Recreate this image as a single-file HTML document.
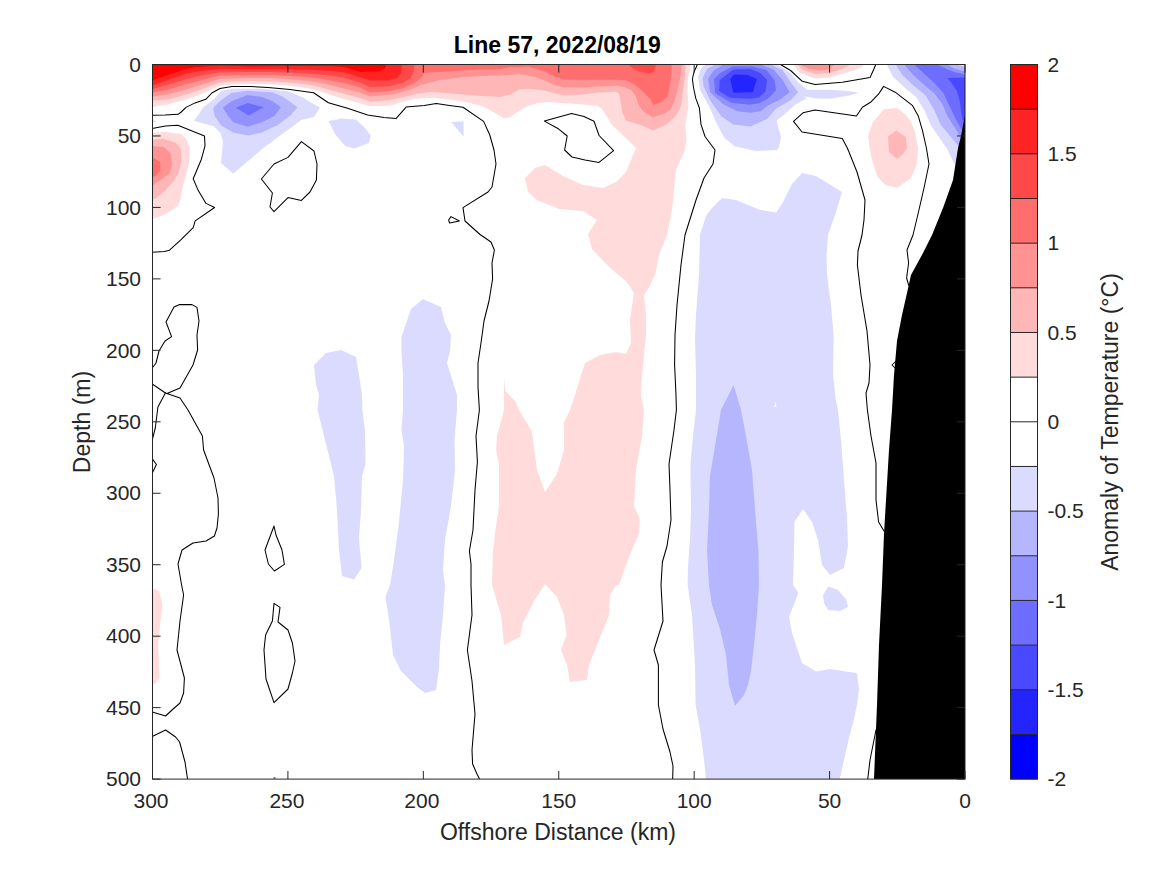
<!DOCTYPE html>
<html lang="en"><head><meta charset="utf-8"><title>Line 57, 2022/08/19</title>
<style>html,body{margin:0;padding:0;background:#fff;font-family:"Liberation Sans",sans-serif}svg{display:block}</style></head><body>
<svg width="1167" height="875" viewBox="0 0 1167 875">
<rect width="1167" height="875" fill="#fff"/>
<defs><clipPath id="ax"><rect x="152.5" y="64.5" width="812.5" height="714.6"/></clipPath></defs>
<g clip-path="url(#ax)" shape-rendering="auto">
<polygon fill="#ffdbdb" points="152.5,64.5 152.5,58.0 152.5,64.5 152.5,107.0 168.0,104.4 186.0,99.6 198.0,95.4 210.0,90.0 220.0,85.8 232.0,84.6 250.0,84.0 270.0,84.3 290.0,85.8 308.0,88.2 320.0,91.2 332.0,95.4 344.0,99.0 360.0,103.2 370.0,106.2 391.0,105.6 400.0,102.5 412.0,99.5 424.0,98.0 436.0,97.7 440.0,98.5 454.0,100.2 464.0,101.7 482.0,106.0 490.0,110.0 500.0,116.0 504.0,118.5 510.0,117.0 519.0,111.0 528.0,106.0 537.0,103.2 546.0,102.0 555.0,102.6 564.0,103.2 580.0,104.2 598.0,106.0 602.0,109.0 606.6,116.3 611.7,124.4 618.0,130.4 636.0,148.0 626.0,172.0 616.0,182.0 603.0,188.0 583.0,185.0 563.0,176.0 545.0,165.0 535.0,168.0 525.0,178.0 528.0,192.0 537.0,200.0 559.0,209.0 583.0,211.0 597.0,220.0 588.0,234.0 592.0,249.0 603.0,261.0 616.0,273.0 626.0,281.0 634.0,293.0 630.0,319.0 631.0,343.0 626.0,354.0 616.0,352.0 600.0,355.0 585.0,363.0 581.0,375.0 575.0,395.0 570.0,410.0 564.0,422.0 564.0,450.0 557.0,474.0 545.0,492.0 537.0,470.0 532.0,432.0 519.0,410.0 515.0,401.0 505.4,391.0 504.0,378.0 504.0,410.0 497.0,436.0 496.0,450.0 499.0,466.0 499.0,506.0 496.0,526.0 493.0,550.0 492.0,585.0 501.0,615.0 504.0,645.0 520.0,637.0 523.0,623.0 534.0,601.0 545.0,584.0 557.0,597.0 564.0,615.0 566.6,635.0 561.0,650.0 567.0,665.0 570.0,682.0 587.0,680.0 589.0,665.0 601.0,635.0 609.0,615.0 610.0,595.0 616.0,585.0 619.0,585.0 624.0,570.0 630.0,554.0 639.0,534.0 639.6,518.0 634.0,506.0 636.0,470.0 642.0,436.0 644.0,410.0 641.0,395.0 642.0,375.0 646.0,335.0 646.0,315.0 644.0,295.0 648.0,289.0 655.0,275.0 659.0,255.0 667.0,235.0 672.0,210.0 676.0,170.0 685.0,150.0 686.4,140.0 685.4,125.0 687.4,112.0 688.6,105.0 687.4,90.0 688.0,78.0 691.0,64.5 691.0,58.0 691.0,64.5"/>
<polygon fill="#ffb6b6" points="152.5,64.5 152.5,58.0 152.5,64.5 152.5,100.5 168.0,99.5 186.0,94.5 198.0,90.6 210.0,86.0 220.0,82.4 232.0,81.5 250.0,81.0 270.0,81.2 290.0,82.5 308.0,84.5 320.0,87.0 332.0,90.5 344.0,93.7 360.0,98.0 370.0,101.4 388.0,100.2 406.0,96.5 418.0,93.5 430.0,92.0 440.0,92.5 464.0,94.5 482.0,96.0 500.0,97.0 510.0,94.5 519.0,89.4 528.0,88.8 537.0,89.5 546.0,91.0 555.0,93.6 564.0,95.2 580.0,94.8 598.0,92.4 616.0,91.8 619.0,93.6 620.8,102.0 622.0,112.0 626.0,120.4 642.0,125.4 653.2,130.4 666.3,124.4 676.4,115.3 681.0,106.0 683.2,90.0 685.0,78.0 685.6,64.5 685.6,58.0 685.6,64.5"/>
<polygon fill="#ff9292" points="152.5,64.5 152.5,58.0 152.5,64.5 152.5,96.5 168.0,94.6 186.0,89.4 198.0,85.8 210.0,82.0 220.0,79.0 232.0,78.4 250.0,78.0 270.0,78.1 290.0,79.2 308.0,80.8 320.0,82.8 332.0,85.6 344.0,88.4 360.0,92.8 370.0,96.6 394.0,94.2 409.0,90.0 421.0,85.0 430.0,82.5 440.0,80.0 464.0,77.0 482.0,76.0 500.0,75.6 510.0,75.0 519.0,74.1 528.0,75.5 537.0,77.4 546.0,81.0 555.0,85.2 564.0,87.6 580.0,87.6 598.0,86.4 616.0,85.8 625.0,87.0 631.0,90.0 635.8,96.0 638.5,105.0 644.2,112.3 653.2,117.3 665.3,113.0 670.0,110.0 674.2,102.0 677.5,90.0 680.4,77.0 681.8,64.5 681.8,58.0 681.8,64.5"/>
<polygon fill="#ff6d6d" points="152.5,64.5 152.5,58.0 152.5,64.5 152.5,92.6 168.0,89.7 186.0,84.3 198.0,81.0 210.0,78.0 220.0,75.6 232.0,75.3 250.0,75.0 270.0,75.0 290.0,75.9 308.0,77.1 320.0,78.6 332.0,80.7 344.0,83.0 360.0,87.6 370.0,92.4 388.0,91.2 403.0,88.2 415.0,82.8 422.2,76.8 424.0,72.9 430.0,72.6 440.0,72.0 464.0,70.2 482.0,69.6 500.0,69.2 510.0,67.2 519.0,67.0 528.0,66.6 537.0,69.0 546.0,72.0 555.0,76.8 564.0,79.5 580.0,79.8 598.0,79.8 618.0,79.8 626.0,80.2 634.0,84.0 640.0,88.8 646.0,94.8 650.0,98.4 653.5,105.0 661.0,102.0 668.2,96.0 668.8,90.0 671.2,78.0 671.8,64.5 671.8,58.0 671.8,64.5"/>
<polygon fill="#ff4949" points="152.5,64.5 152.5,58.0 152.5,64.5 152.5,89.0 168.0,84.8 186.0,79.2 198.0,76.2 210.0,74.0 220.0,72.2 232.0,72.2 250.0,72.0 270.0,72.0 290.0,72.6 308.0,73.4 320.0,74.4 332.0,75.8 344.0,77.7 360.0,82.4 370.0,87.0 388.0,86.4 403.0,82.8 410.8,78.0 413.8,72.0 414.4,64.5 414.4,58.0 414.4,64.5"/>
<polygon fill="#ff2424" points="152.5,64.5 152.5,58.0 152.5,64.5 152.5,85.2 168.0,79.9 186.0,74.1 198.0,71.4 210.0,70.0 220.0,68.8 232.0,69.0 250.0,69.0 270.0,69.0 290.0,69.3 308.0,69.7 320.0,70.2 332.0,71.0 344.0,72.4 360.0,77.2 370.0,80.4 388.0,80.4 397.0,78.0 401.2,73.2 401.8,64.5 401.8,58.0 401.8,64.5"/>
<polygon fill="#ff0000" points="152.5,64.5 152.5,58.0 152.5,64.5 152.5,80.4 168.0,75.0 186.0,69.0 198.0,67.0 210.0,66.0 220.0,65.5 250.0,66.5 290.0,66.0 320.0,66.0 332.0,66.2 344.0,67.0 360.0,72.0 370.0,71.4 379.0,71.4 385.0,68.4 386.2,64.5 386.2,58.0 386.2,64.5"/>
<polygon fill="#ff4949" points="628.0,64.5 628.0,58.0 628.0,64.5 634.0,69.0 640.0,72.0 650.0,73.5 654.0,72.0 656.0,64.5 656.0,58.0 656.0,64.5"/>
<polygon fill="#ffdbdb" points="150.0,133.0 165.4,132.0 180.8,134.0 186.0,138.6 189.6,146.9 189.6,159.2 187.0,172.6 184.0,182.9 182.9,185.4 180.8,198.8 177.8,206.0 165.4,214.2 150.0,220.4"/>
<polygon fill="#ffb6b6" points="150.0,139.7 163.4,138.7 175.7,142.8 180.8,148.9 181.4,161.3 178.8,172.6 174.2,180.5 165.4,190.6 156.2,197.8 150.0,200.8"/>
<polygon fill="#ff9292" points="150.0,145.8 163.4,146.9 170.6,153.0 172.1,164.4 169.5,173.6 160.3,180.3 150.0,187.5"/>
<polygon fill="#ff6d6d" points="150.0,156.0 160.3,162.3 160.3,170.5 155.5,176.0 150.0,178.0"/>
<polygon fill="#ffdbdb" points="150.0,587.0 159.0,591.0 162.4,605.0 160.0,625.0 158.0,645.0 159.0,665.0 159.6,677.0 156.0,683.0 150.0,685.0"/>
<polygon fill="#ffdbdb" points="793.0,64.5 793.0,58.0 793.0,64.5 800.0,73.1 815.0,78.6 830.2,77.6 845.3,73.1 860.4,68.0 864.4,64.5 864.4,58.0 864.4,64.5"/>
<polygon fill="#ffb6b6" points="797.0,64.5 797.0,58.0 797.0,64.5 803.0,70.0 816.0,74.1 830.2,73.1 842.3,69.0 850.4,64.5 850.4,58.0 850.4,64.5"/>
<polygon fill="#ff9292" points="800.0,64.5 800.0,58.0 800.0,64.5 808.0,68.6 820.0,70.6 828.0,69.6 835.3,64.5 835.3,58.0 835.3,64.5"/>
<polygon fill="#ffdbdb" points="868.0,136.0 873.0,122.0 880.0,114.0 883.6,109.3 897.0,108.0 906.0,115.0 911.0,122.0 915.0,132.0 918.0,148.0 917.0,164.0 911.0,178.0 897.0,188.0 885.0,185.0 877.0,176.0 871.0,156.0"/>
<polygon fill="#ffb6b6" points="888.0,136.5 896.2,130.4 905.6,137.0 907.0,148.0 903.0,154.0 897.0,159.0 889.0,152.0"/>
<polygon fill="#dbdbff" points="194.1,121.1 202.9,107.8 213.7,99.5 220.8,91.3 231.1,88.7 262.0,88.7 287.7,91.3 303.1,97.5 310.0,102.1 320.0,107.6 314.0,117.0 301.0,120.1 292.8,126.3 277.4,137.6 262.0,148.9 251.7,158.1 239.4,168.4 233.0,173.6 221.0,163.0 222.9,141.7 220.8,133.5 213.7,126.3"/>
<polygon fill="#b6b6ff" points="213.1,107.8 220.8,100.6 231.1,92.9 247.6,90.8 272.3,92.3 282.5,96.5 297.5,107.2 290.8,115.0 277.4,125.2 262.0,132.4 248.6,135.5 233.2,132.4 220.8,125.2 214.7,116.0"/>
<polygon fill="#9292ff" points="222.9,107.8 231.1,101.6 247.6,94.9 262.0,97.0 272.3,101.1 281.0,107.2 274.3,116.0 262.0,122.2 247.6,126.8 233.2,122.2 228.0,116.0"/>
<polygon fill="#6d6dff" points="235.8,107.8 247.6,103.1 264.0,107.2 248.6,115.5"/>
<polygon fill="#dbdbff" points="152.5,120.2 157.2,121.2 152.5,122.6"/>
<polygon fill="#dbdbff" points="328.6,121.0 342.0,118.4 356.0,119.4 365.0,128.0 370.6,135.6 369.0,143.0 354.0,148.4 345.0,146.0 335.0,134.0"/>
<polygon fill="#dbdbff" points="451.0,122.0 463.6,121.4 463.6,136.6"/>
<polygon fill="#dbdbff" points="314.0,365.0 326.0,353.0 341.0,350.0 356.0,357.0 359.0,375.0 362.0,395.0 362.4,410.0 365.0,430.0 365.6,464.0 362.0,476.0 361.0,510.0 359.0,538.0 361.6,568.0 354.0,579.6 342.0,576.0 339.0,550.0 337.0,510.0 334.0,476.0 324.0,436.0 317.6,410.0 319.0,395.0 316.0,385.0"/>
<polygon fill="#dbdbff" points="401.4,337.0 411.0,309.0 423.0,299.0 441.0,307.0 445.0,323.0 451.0,335.0 450.0,351.0 447.0,363.0 452.0,379.0 457.0,395.0 457.0,410.0 454.6,440.0 455.0,470.0 451.0,506.0 445.0,540.0 443.0,570.0 445.0,585.0 443.0,615.0 440.0,645.0 439.0,669.0 436.0,690.0 425.0,693.0 417.0,687.0 401.0,671.0 393.0,655.0 389.0,619.0 385.4,597.0 390.0,585.0 394.0,560.0 399.0,522.0 403.0,480.0 404.0,446.0 401.4,430.0 403.0,410.0 403.0,375.0 401.4,351.0"/>
<polygon fill="#dbdbff" points="700.0,235.0 706.0,216.0 712.0,208.0 722.0,198.0 736.0,200.0 760.0,210.0 776.0,212.4 782.0,204.0 792.0,184.0 802.0,173.0 816.0,176.0 842.0,192.0 836.0,212.0 828.0,235.0 826.5,255.0 827.0,275.0 831.0,305.0 833.6,335.0 833.0,375.0 836.0,401.0 838.0,410.0 841.0,440.0 844.0,480.0 847.0,518.0 848.0,546.0 844.0,568.0 830.0,575.0 822.0,565.0 818.0,540.0 812.0,522.0 803.0,509.0 794.4,522.0 794.0,550.0 793.0,585.0 798.4,593.0 789.0,617.0 792.0,633.0 802.0,663.0 816.0,671.4 830.0,669.0 849.0,672.0 857.0,673.0 859.0,689.0 857.0,705.0 853.0,723.0 849.0,738.0 844.0,760.0 839.0,782.0 706.4,782.0 704.0,760.0 700.0,729.0 695.6,705.0 695.0,665.0 692.0,615.0 687.6,585.0 688.0,566.0 690.0,538.0 691.0,510.0 690.4,464.0 693.0,436.0 696.0,410.0 696.0,375.0 695.0,339.0 696.0,315.0 699.0,275.0"/>
<polygon fill="#dbdbff" points="823.0,595.0 828.4,586.6 838.0,590.0 846.0,599.0 848.0,607.0 840.0,611.0 828.0,610.0 824.0,603.0"/>
<polygon fill="#b6b6ff" points="733.6,385.0 741.0,410.0 746.0,436.0 752.0,470.0 755.0,510.0 758.4,550.0 759.0,585.0 757.0,615.0 754.0,645.0 751.0,671.0 748.0,685.0 744.0,695.0 735.0,706.0 729.0,685.0 726.0,655.0 720.0,629.0 712.0,605.0 709.0,585.0 707.0,550.0 709.0,510.0 710.0,476.0 716.0,440.0 721.0,410.0"/>
<polygon fill="#ffffff" points="775.4,402.0 776.6,407.0 774.2,407.0"/>
<polygon fill="#dbdbff" points="698.0,77.1 701.1,68.0 706.1,64.5 706.1,58.0 706.1,64.5 777.5,64.5 777.5,58.0 777.5,64.5 790.6,73.1 798.7,83.1 807.0,89.2 803.0,89.7 830.0,89.7 850.4,91.2 858.4,92.7 850.4,95.2 830.0,98.7 815.0,98.2 803.0,96.2 807.0,98.2 795.6,104.3 784.6,114.3 776.5,120.4 778.5,128.4 781.0,136.5 781.0,137.0 779.0,147.0 777.0,150.0 756.0,151.0 734.6,146.3 724.3,137.7 716.2,122.4 710.1,108.3 700.1,90.2"/>
<polygon fill="#b6b6ff" points="702.6,78.1 707.1,69.1 715.2,64.5 715.2,58.0 715.2,64.5 770.5,64.5 770.5,58.0 770.5,64.5 782.6,70.1 790.6,82.1 798.1,92.2 790.6,100.2 776.5,108.3 766.5,119.4 750.4,126.4 733.3,124.4 721.2,116.3 710.1,100.2 703.6,86.2"/>
<polygon fill="#9292ff" points="708.1,79.1 713.1,71.1 723.2,64.5 723.2,58.0 723.2,64.5 760.4,64.5 760.4,58.0 760.4,64.5 773.5,69.6 782.6,80.1 789.6,92.2 780.5,99.2 768.5,105.3 760.4,111.3 750.4,112.8 737.3,111.3 723.2,104.3 710.1,92.2"/>
<polygon fill="#6d6dff" points="714.1,79.1 720.2,73.1 732.3,66.5 752.4,66.5 766.5,70.1 774.5,80.1 776.0,90.2 768.5,98.2 759.4,103.3 749.4,104.8 731.2,102.8 715.2,93.2"/>
<polygon fill="#4949ff" points="719.7,80.1 733.3,69.6 750.4,69.1 760.4,73.1 767.0,80.1 765.5,91.2 759.4,97.2 750.4,98.7 730.2,97.7 719.2,91.2"/>
<polygon fill="#2424ff" points="730.2,79.1 734.3,74.6 747.3,75.1 756.9,79.1 752.9,92.2 733.3,92.7"/>
<polygon fill="#dbdbff" points="886.7,64.5 886.7,58.0 886.7,64.5 893.2,77.1 905.3,88.2 916.3,97.2 924.4,110.3 930.4,124.4 940.5,139.5 946.5,148.0 955.0,165.0 970.0,170.0 970.0,64.5 970.0,58.0 970.0,64.5"/>
<polygon fill="#b6b6ff" points="895.7,64.5 895.7,58.0 895.7,64.5 902.3,75.1 914.3,86.2 925.4,95.2 934.4,110.3 940.5,124.4 950.5,136.5 958.0,145.5 970.0,150.0 970.0,64.5 970.0,58.0 970.0,64.5"/>
<polygon fill="#9292ff" points="904.3,64.5 904.3,58.0 904.3,64.5 912.3,74.1 924.4,85.2 934.4,93.2 942.5,104.3 947.5,116.3 956.6,130.4 960.6,137.5 970.0,140.0 970.0,71.5 964.3,71.3 954.8,68.7 948.3,65.2 947.0,64.5 947.0,58.0 947.0,64.5"/>
<polygon fill="#6d6dff" points="914.3,64.5 914.3,58.0 914.3,64.5 924.4,74.1 934.4,83.1 943.5,93.2 950.5,108.3 956.6,120.4 961.6,129.4 970.0,132.0 970.0,74.5 964.3,74.3 959.0,73.0 954.8,72.2 946.0,68.7 938.7,65.2 937.0,64.5 937.0,58.0 937.0,64.5"/>
<polygon fill="#4949ff" points="947.4,78.0 952.2,84.0 957.0,91.2 960.0,102.0 961.2,112.0 962.5,120.0 970.0,122.0 970.0,77.5"/>
<polygon fill="#dbdbff" points="957.0,64.5 957.0,58.0 957.0,64.5 958.0,65.0 970.0,68.5 970.0,64.5 970.0,58.0 970.0,64.5"/>
<g fill="none" stroke="#000" stroke-width="1.05" stroke-linejoin="round">
<polyline points="152.2,115.3 165.0,115.1 178.2,114.3 181.2,112.0 186.0,107.4 195.0,102.9 205.8,99.3 211.8,93.0 220.0,88.5 232.0,86.4 250.0,86.4 268.0,87.6 290.0,89.4 313.6,92.7 328.4,102.7 347.5,108.3 367.6,115.1 384.0,117.5 396.0,118.6 406.1,107.1 424.2,105.5 436.3,103.5 449.4,105.5 463.0,107.3 483.6,121.4 489.8,135.0 494.0,150.0 496.0,164.0 492.0,187.0 488.0,192.0 463.0,207.6 465.0,221.0 480.0,234.5 491.0,242.0 494.4,250.0 492.0,263.0 492.6,279.0 489.0,301.0 484.0,321.0 481.0,343.0 478.0,363.0 478.0,387.0 479.4,410.0 476.0,436.0 477.4,462.0 475.0,490.0 473.0,530.0 469.4,551.0 471.0,564.0 471.0,585.0 472.0,615.0 467.4,650.0 472.0,681.0 475.0,714.0 472.0,750.0 472.6,764.0 477.0,774.0 481.0,782.0"/>
<polyline points="152.2,128.4 165.4,126.1 177.8,125.3 204.5,136.1 205.0,145.8 201.4,159.2 193.2,178.7 198.3,190.6 206.0,203.4 214.6,207.5 195.2,220.9 193.2,227.6 180.8,239.9 169.5,250.2 164.4,251.4 152.2,252.3"/>
<polygon points="301.4,141.6 314.0,151.0 317.0,164.0 316.4,180.0 310.0,192.0 301.4,200.4 288.0,197.6 274.0,211.6 270.0,207.0 272.4,193.0 261.4,179.0 274.0,164.0 288.0,157.4"/>
<polyline points="152.2,368.0 156.0,363.0 159.0,351.0 165.0,341.0 171.6,336.6 166.0,322.0 174.0,307.0 179.6,304.6 192.0,304.6 197.0,307.4 199.0,321.0 197.0,335.0 197.6,350.0 193.0,365.0 180.0,388.0 167.0,393.6 165.4,393.0 180.0,398.0 188.0,410.0 202.4,436.0 203.6,450.0 214.0,478.0 218.0,498.0 218.4,514.0 217.0,528.0 214.4,536.0 206.0,541.0 193.0,543.0 182.0,550.0 178.0,564.0 181.6,585.0 183.6,595.0 180.0,621.0 177.0,650.0 184.4,678.0 183.6,693.0 180.0,703.0 172.0,710.0 165.6,716.0 152.2,712.0"/>
<polyline points="152.2,384.0 165.4,393.0 157.9,407.0 155.3,428.0 152.2,440.0"/>
<polyline points="152.2,458.6 156.4,464.5 152.2,473.4"/>
<polyline points="152.2,736.6 165.6,730.0 175.6,737.0 179.6,742.0 185.0,762.0 188.0,782.0"/>
<polygon points="274.0,526.0 276.0,535.0 282.0,550.0 284.4,564.4 274.4,571.0 268.4,564.0 265.0,550.0"/>
<polygon points="274.0,603.4 280.0,607.4 278.0,622.0 288.0,630.0 292.4,643.0 295.0,661.0 292.4,673.0 288.0,689.0 274.0,702.6 266.0,679.0 264.0,650.0 265.6,635.0 272.4,621.0"/>
<polygon points="451.0,216.6 459.4,221.0 449.6,223.0 448.6,220.0"/>
<polygon points="544.4,121.1 571.6,113.4 584.0,116.6 594.0,121.2 599.1,135.5 613.6,150.6 599.0,162.4 585.0,160.0 572.0,157.0 564.6,150.0 567.2,136.0 558.4,128.8"/>
<polyline points="697.4,64.5 694.0,72.0 692.4,79.0 693.4,87.0 695.8,98.4 699.4,108.0 701.0,124.4 705.0,136.5 715.0,150.0 713.0,164.0 704.0,178.0 696.0,200.0 685.0,235.0 681.0,265.0 677.0,305.0 675.0,335.0 674.6,365.0 676.0,395.0 676.4,410.0 674.0,430.0 669.0,464.0 670.0,490.0 671.0,520.0 667.0,546.0 662.4,562.0 661.0,585.0 663.0,621.0 654.0,650.0 658.4,665.0 658.4,705.0 663.0,729.0 670.0,752.0 673.0,766.0 672.6,782.0"/>
<polyline points="780.5,64.5 790.6,70.5 802.3,81.3 815.0,84.4 842.3,82.3 870.0,77.6 873.0,71.0 875.8,64.5"/>
<polyline points="912.0,290.0 908.6,285.0 906.6,278.0 908.6,263.0 907.0,250.0 913.0,235.0 918.0,214.0 924.0,188.0 929.0,164.0 926.4,148.0 922.4,130.4 918.4,116.3 912.3,105.3 895.2,92.2 883.6,86.4 878.5,94.2 870.5,102.3 862.4,107.3 856.4,116.0 815.0,110.0 803.0,112.8 793.5,121.4 802.0,132.0 842.3,138.5 847.3,148.0 849.0,152.0 857.0,172.0 865.0,200.0 864.0,220.0 862.0,235.0 858.0,251.0 857.4,265.0 861.0,295.0 867.0,331.0 870.0,365.0 869.0,383.0 866.0,393.0 867.4,410.0 871.0,436.0 876.0,463.0 876.0,500.0 878.6,522.0 884.0,531.0 890.0,537.0"/>
<polyline points="898.0,359.0 892.0,365.0 897.0,370.0"/>
<polyline points="880.0,722.0 876.0,730.0 870.0,760.0 867.4,782.0"/>
<polyline points="273.6,778.0 275.4,778.0"/>
</g>
<polygon fill="#000" points="965.5,112.5 961.0,136.0 958.0,148.0 953.0,180.0 943.0,208.0 932.0,235.0 923.0,253.0 911.0,275.0 907.0,293.0 902.0,315.0 897.0,341.0 894.0,375.0 892.0,410.0 889.0,450.0 886.0,500.0 884.0,534.0 882.0,585.0 879.0,645.0 877.0,705.0 874.0,779.0 970.0,779.0 970.0,112.5"/>
</g>
<g stroke="#262626" stroke-width="1.0" fill="none">
<rect x="152.5" y="64.5" width="812.5" height="714.6"/>
<path d="M152.50 779.1v-8.1M152.50 64.5v8.1"/>
<path d="M287.92 779.1v-8.1M287.92 64.5v8.1"/>
<path d="M423.33 779.1v-8.1M423.33 64.5v8.1"/>
<path d="M558.75 779.1v-8.1M558.75 64.5v8.1"/>
<path d="M694.17 779.1v-8.1M694.17 64.5v8.1"/>
<path d="M829.58 779.1v-8.1M829.58 64.5v8.1"/>
<path d="M965.00 779.1v-8.1M965.00 64.5v8.1"/>
<path d="M152.5 64.50h8.1M965.0 64.50h-8.1"/>
<path d="M152.5 135.96h8.1M965.0 135.96h-8.1"/>
<path d="M152.5 207.42h8.1M965.0 207.42h-8.1"/>
<path d="M152.5 278.88h8.1M965.0 278.88h-8.1"/>
<path d="M152.5 350.34h8.1M965.0 350.34h-8.1"/>
<path d="M152.5 421.80h8.1M965.0 421.80h-8.1"/>
<path d="M152.5 493.26h8.1M965.0 493.26h-8.1"/>
<path d="M152.5 564.72h8.1M965.0 564.72h-8.1"/>
<path d="M152.5 636.18h8.1M965.0 636.18h-8.1"/>
<path d="M152.5 707.64h8.1M965.0 707.64h-8.1"/>
<path d="M152.5 779.10h8.1M965.0 779.10h-8.1"/>
</g>
<rect x="1010.5" y="734.44" width="27.0" height="44.96" fill="#0000ff"/>
<rect x="1010.5" y="689.77" width="27.0" height="44.96" fill="#2424ff"/>
<rect x="1010.5" y="645.11" width="27.0" height="44.96" fill="#4949ff"/>
<rect x="1010.5" y="600.45" width="27.0" height="44.96" fill="#6d6dff"/>
<rect x="1010.5" y="555.79" width="27.0" height="44.96" fill="#9292ff"/>
<rect x="1010.5" y="511.12" width="27.0" height="44.96" fill="#b6b6ff"/>
<rect x="1010.5" y="466.46" width="27.0" height="44.96" fill="#dbdbff"/>
<rect x="1010.5" y="421.80" width="27.0" height="44.96" fill="#ffffff"/>
<rect x="1010.5" y="377.14" width="27.0" height="44.96" fill="#ffffff"/>
<rect x="1010.5" y="332.48" width="27.0" height="44.96" fill="#ffdbdb"/>
<rect x="1010.5" y="287.81" width="27.0" height="44.96" fill="#ffb6b6"/>
<rect x="1010.5" y="243.15" width="27.0" height="44.96" fill="#ff9292"/>
<rect x="1010.5" y="198.49" width="27.0" height="44.96" fill="#ff6d6d"/>
<rect x="1010.5" y="153.83" width="27.0" height="44.96" fill="#ff4949"/>
<rect x="1010.5" y="109.16" width="27.0" height="44.96" fill="#ff2424"/>
<rect x="1010.5" y="64.50" width="27.0" height="44.96" fill="#ff0000"/>
<g stroke="#262626" stroke-width="1.0" fill="none">
<path d="M1010.5 734.44H1037.5"/>
<path d="M1010.5 689.77H1037.5"/>
<path d="M1010.5 645.11H1037.5"/>
<path d="M1010.5 600.45H1037.5"/>
<path d="M1010.5 555.79H1037.5"/>
<path d="M1010.5 511.12H1037.5"/>
<path d="M1010.5 466.46H1037.5"/>
<path d="M1010.5 421.80H1037.5"/>
<path d="M1010.5 377.14H1037.5"/>
<path d="M1010.5 332.48H1037.5"/>
<path d="M1010.5 287.81H1037.5"/>
<path d="M1010.5 243.15H1037.5"/>
<path d="M1010.5 198.49H1037.5"/>
<path d="M1010.5 153.83H1037.5"/>
<path d="M1010.5 109.16H1037.5"/>
<rect x="1010.5" y="64.5" width="27.0" height="714.6"/>
</g>
<g fill="#262626" font-family="'Liberation Sans', sans-serif" font-size="21">
<g text-anchor="middle">
<text x="151.00" y="807.60">300</text>
<text x="286.92" y="807.60">250</text>
<text x="421.83" y="807.60">200</text>
<text x="558.75" y="807.60">150</text>
<text x="694.17" y="807.60">100</text>
<text x="829.58" y="807.60">50</text>
<text x="965.00" y="807.60">0</text>
</g>
<g text-anchor="end">
<text x="141" y="71.70">0</text>
<text x="141" y="143.16">50</text>
<text x="141" y="214.62">100</text>
<text x="141" y="286.08">150</text>
<text x="141" y="357.54">200</text>
<text x="141" y="429.00">250</text>
<text x="141" y="500.46">300</text>
<text x="141" y="571.92">350</text>
<text x="141" y="643.38">400</text>
<text x="141" y="714.84">450</text>
<text x="141" y="786.30">500</text>
</g>
<g text-anchor="start">
<text x="1047.4" y="786.30">-2</text>
<text x="1047.4" y="696.98">-1.5</text>
<text x="1047.4" y="607.65">-1</text>
<text x="1047.4" y="518.33">-0.5</text>
<text x="1047.4" y="429.00">0</text>
<text x="1047.4" y="339.68">0.5</text>
<text x="1047.4" y="250.35">1</text>
<text x="1047.4" y="161.03">1.5</text>
<text x="1047.4" y="71.70">2</text>
</g>
</g>
<g fill="#262626">
<text x="558.00" y="839.50" text-anchor="middle" font-family="'Liberation Sans', sans-serif" font-size="23">Offshore Distance (km)</text>
</g>
<g fill="#262626">
<text transform="translate(89.50 422.00) rotate(-90)" text-anchor="middle" font-family="'Liberation Sans', sans-serif" font-size="23">Depth (m)</text>
</g>
<g fill="#262626">
<text transform="translate(1117.50 422.00) rotate(-90)" text-anchor="middle" font-family="'Liberation Sans', sans-serif" font-size="23">Anomaly of Temperature (°C)</text>
</g>
<g fill="#000">
<text x="557.30" y="52.90" text-anchor="middle" font-family="'Liberation Sans', sans-serif" font-size="23" font-weight="bold">Line 57, 2022/08/19</text>
</g>
</svg></body></html>
